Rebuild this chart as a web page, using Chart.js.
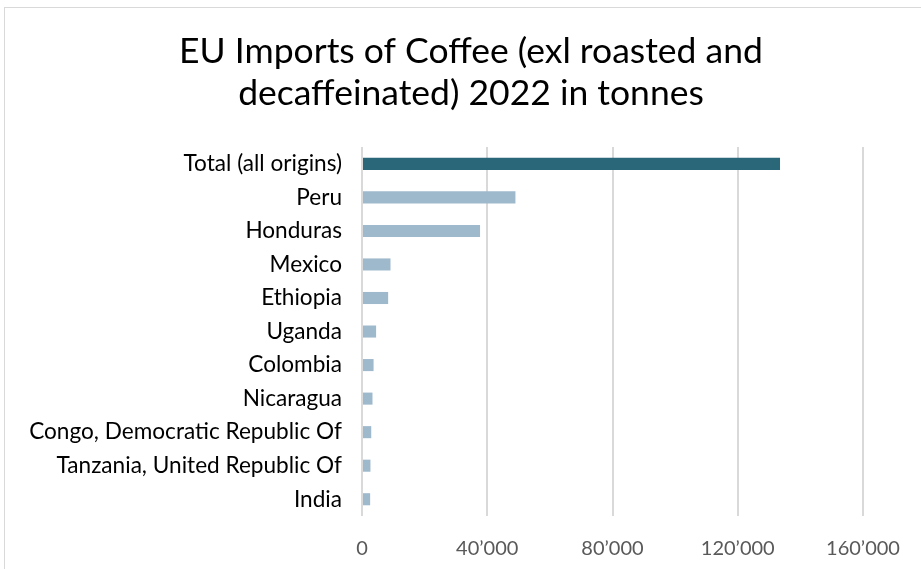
<!DOCTYPE html>
<html>
<head>
<meta charset="utf-8">
<script src="https://cdn.jsdelivr.net/npm/chart.js@4.4.0/dist/chart.umd.min.js"></script>
<style>
  html, body { margin: 0; padding: 0; background: #fff; }
  #wrap { position: relative; width: 921px; height: 569px; }
</style>
</head>
<body>
<div id="wrap"><canvas id="c" width="921" height="569"></canvas></div>
<script>
const categories = [
  "Total (all origins)", "Peru", "Honduras", "Mexico", "Ethiopia", "Uganda",
  "Colombia", "Nicaragua", "Congo, Democratic Republic Of",
  "Tanzania, United Republic Of", "India"
];
const importsTonnes = [133500, 49000, 37700, 9100, 8350, 4500, 3700, 3350, 2950, 2700, 2600];
const xTickMax = 160000;
const xTickStep = 40000;
const titleLines = ["EU Imports of Coffee (exl roasted and", "decaffeinated) 2022 in tonnes"];

const FONT = "Lato, 'Open Sans', sans-serif";

const frame = {
  id: 'frame',
  beforeDraw(chart) {
    const ctx = chart.ctx;
    ctx.save();
    ctx.fillStyle = '#fff';
    ctx.fillRect(0, 0, chart.width, chart.height);
    ctx.strokeStyle = '#d9d9d9';
    ctx.lineWidth = 1;
    ctx.strokeRect(4.5, 7.5, chart.width + 10, chart.height + 10);
    ctx.restore();
  }
};

new Chart(document.getElementById('c'), {
  type: 'bar',
  data: {
    labels: categories,
    datasets: [{
      data: importsTonnes,
      backgroundColor: (ctx) => ctx.dataIndex === 0 ? '#2a6879' : '#9fb9cc',
      barPercentage: 0.36,
      categoryPercentage: 1.0
    }]
  },
  plugins: [frame],
  options: {
    indexAxis: 'y',
    responsive: false,
    animation: false,
    devicePixelRatio: 1,
    layout: { padding: { left: 21, right: 0, top: 0, bottom: 0 } },
    plugins: {
      legend: { display: false },
      tooltip: { enabled: false },
      title: {
        display: true,
        text: titleLines,
        color: '#000',
        font: { family: FONT, size: 35.5, weight: 'normal', lineHeight: 1.17 },
        padding: { top: 31, bottom: 33 }
      }
    },
    scales: {
      x: {
        min: 0,
        max: xTickMax,
        ticks: {
          stepSize: xTickStep,
          color: '#595959',
          font: { family: FONT, size: 20 },
          padding: 21,
          callback: (v) => Number(v).toLocaleString('en-US').replace(/,/g, '\u2019')
        },
        grid: { color: '#d9d9d9', lineWidth: 2, drawTicks: false },
        border: { display: false },
        afterFit: (s) => { s.height = 53; s.paddingRight = 58; s.paddingLeft = 0; }
      },
      y: {
        ticks: {
          color: '#000',
          font: { family: FONT, size: 22.6 },
          padding: 20
        },
        grid: { display: false, drawTicks: false },
        border: { display: false },
        afterFit: (s) => { s.width = 341; }
      }
    }
  }
});
</script>
</body>
</html>
